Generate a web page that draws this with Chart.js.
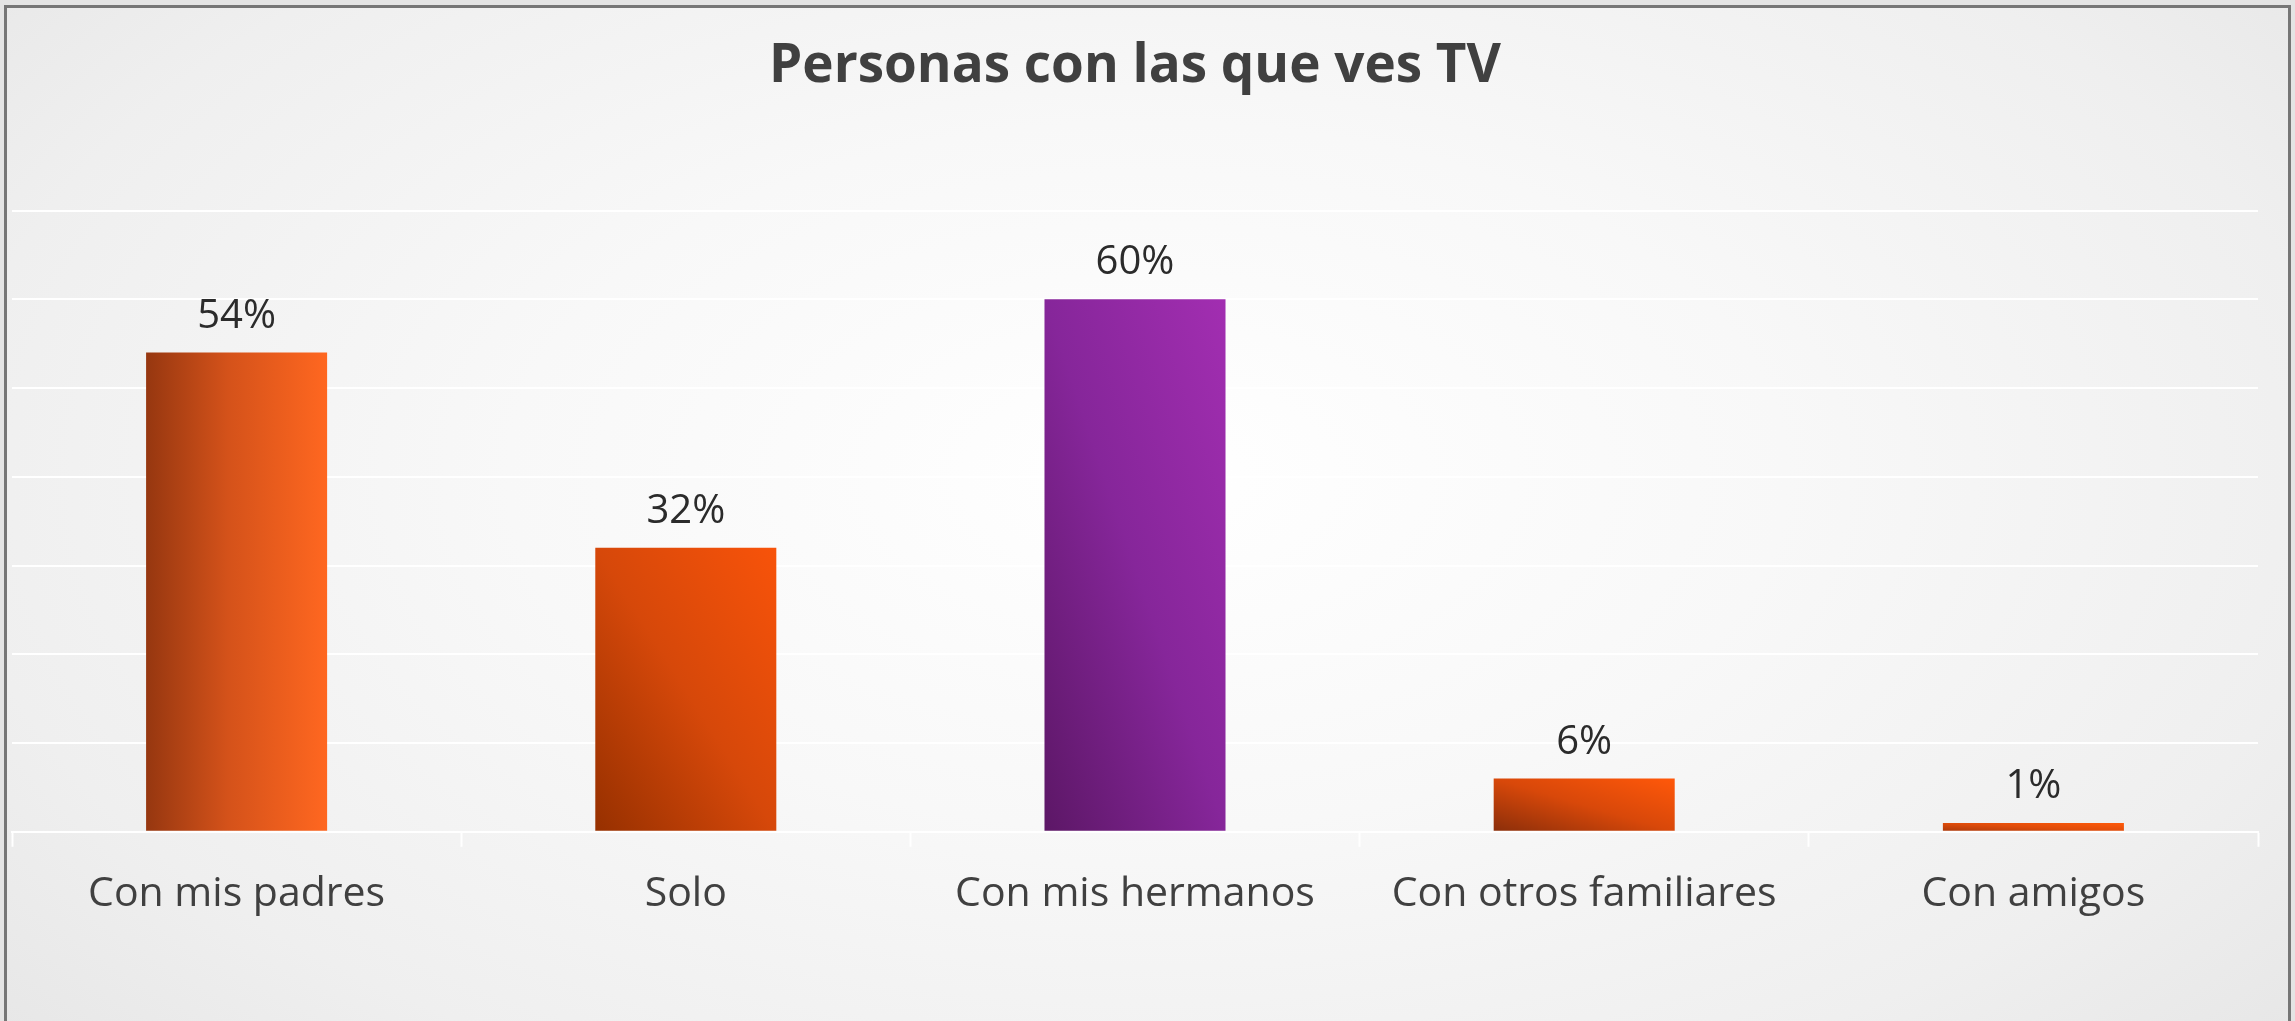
<!DOCTYPE html>
<html><head><meta charset="utf-8">
<script src="https://cdn.jsdelivr.net/npm/chart.js@4.4.0/dist/chart.umd.min.js"></script>
<style>
html,body{margin:0;padding:0;width:2295px;height:1021px;overflow:hidden;background:#e4e4e4}
#frame{position:absolute;left:4px;top:5px;width:2281px;height:1040px;border:3px solid #767676;
background:radial-gradient(ellipse 70% 85% at 50% 45%, #ffffff 0%, #f8f8f8 40%, #efefef 75%, #e5e5e5 100%)}
#wrap{position:absolute;left:0;top:0;width:2295px;height:1021px}
</style></head><body>
<div id="frame"></div>
<div id="wrap"><canvas id="c" width="2295" height="1021"></canvas></div>
<script>
const categories = ['Con mis padres', 'Solo', 'Con mis hermanos', 'Con otros familiares', 'Con amigos'];
const values = [0.54, 0.32, 0.60, 0.06, 0.01];
const valueLabels = ['54%', '32%', '60%', '6%', '1%'];
const yMin = 0, yMax = 0.7, yStep = 0.1;
const titleText = 'Personas con las que ves TV';

// styles
const barFrac = 0.403;
const gradStyles = [
  {dir: 'h', stops: [[0, '#963710'], [0.45, '#D4521A'], [1, '#FF6720']]},
  {dir: 'd', stops: [[0, '#963000'], [0.5, '#D6480A'], [1, '#F8530A']]},
  {dir: 'd', stops: [[0, '#5C1766'], [0.5, '#86269A'], [1, '#A22EB1']]},
  {dir: 'd', stops: [[0, '#8A2E0A'], [0.5, '#D8480A'], [1, '#FF580A']]},
  {dir: 'd', stops: [[0, '#A9380A'], [0.5, '#E04C0A'], [1, '#FF5A0A']]}
];

function barFill(ctx) {
  const chart = ctx.chart;
  if (!chart.chartArea || ctx.type !== 'data') return '#E0531A';
  const i = ctx.dataIndex;
  const xs = chart.scales.x, ys = chart.scales.y;
  const cx = xs.getPixelForValue(i);
  const half = (xs.width / categories.length) * barFrac / 2;
  const top = ys.getPixelForValue(values[i]);
  const bot = ys.getPixelForValue(0);
  const left = cx - half, right = cx + half;
  const g = gradStyles[i];
  let grad;
  if (g.dir === 'h') {
    grad = chart.ctx.createLinearGradient(left, 0, right, 0);
  } else {
    const w = right - left, h = Math.max(bot - top, 1);
    const k = 2 * w * h / (w * w + h * h);
    grad = chart.ctx.createLinearGradient(left, bot, left + h * k, bot - w * k);
  }
  g.stops.forEach(([o, c]) => grad.addColorStop(o, c));
  return grad;
}

const valueLabelPlugin = {
  id: 'valueLabels',
  afterDatasetsDraw(chart) {
    const ctx = chart.ctx;
    const meta = chart.getDatasetMeta(0);
    ctx.save();
    ctx.font = '40px "Open Sans"';
    ctx.fillStyle = '#2b2b2b';
    ctx.textAlign = 'center';
    ctx.textBaseline = 'alphabetic';
    meta.data.forEach((bar, i) => {
      ctx.fillText(valueLabels[i], bar.x, bar.y - 25);
    });
    ctx.restore();
  }
};

new Chart(document.getElementById('c'), {
  type: 'bar',
  data: {
    labels: categories,
    datasets: [{
      data: values,
      backgroundColor: barFill,
      borderWidth: 0,
      categoryPercentage: 1,
      barPercentage: barFrac
    }]
  },
  options: {
    responsive: false,
    animation: false,
    events: [],
    layout: {padding: {left: 12, right: 37, top: 0, bottom: 79}},
    plugins: {
      legend: {display: false},
      tooltip: {enabled: false},
      title: {
        display: true,
        text: titleText,
        color: '#404040',
        font: {family: 'Open Sans', size: 53, weight: 'bold'},
        padding: {top: 35, bottom: 112}
      }
    },
    scales: {
      x: {
        grid: {display: true, drawOnChartArea: false, drawTicks: true, tickLength: 15, tickColor: '#ffffff', tickWidth: 2, offset: true},
        border: {display: true, color: '#ffffff', width: 2},
        ticks: {color: '#404040', font: {family: 'Open Sans', size: 41}, padding: 23, maxRotation: 0, autoSkip: false}
      },
      y: {
        min: yMin, max: yMax,
        ticks: {display: false, stepSize: yStep},
        grid: {color: '#ffffff', lineWidth: 2, drawTicks: false},
        border: {display: false}
      }
    }
  },
  plugins: [valueLabelPlugin]
});
</script>
</body></html>
